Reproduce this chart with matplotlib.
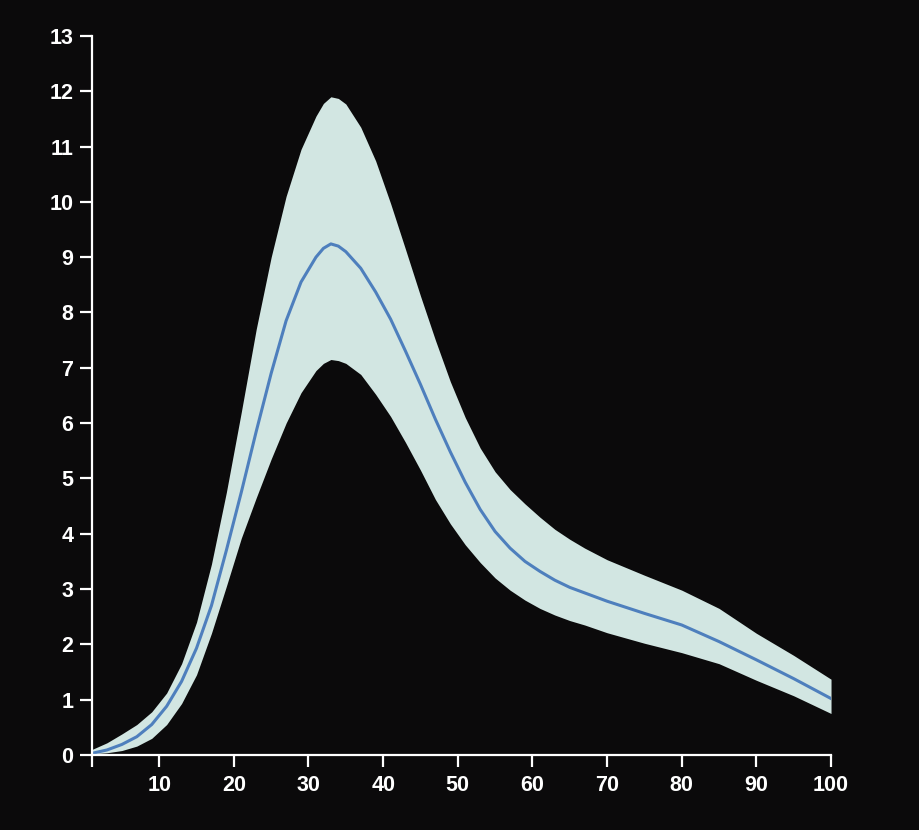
import matplotlib.pyplot as plt
import numpy as np

# valores: média e faixa (inferior / superior)
x = [1, 3, 5, 7, 9, 11, 13, 15, 17, 19, 21, 23, 25, 27, 29, 31, 32, 33, 34, 35, 37, 39,
     41, 43, 45, 47, 49, 51, 53, 55, 57, 59, 61, 63, 65, 67, 70, 75, 80, 85, 90, 95, 100]
media = [0.03, 0.09, 0.19, 0.33, 0.55, 0.88, 1.33, 1.93, 2.7, 3.7, 4.75, 5.85, 6.9, 7.85,
         8.55, 9.0, 9.16, 9.24, 9.2, 9.1, 8.8, 8.37, 7.88, 7.3, 6.7, 6.07, 5.48, 4.93,
         4.44, 4.04, 3.74, 3.5, 3.32, 3.16, 3.03, 2.93, 2.78, 2.56, 2.35, 2.05, 1.72,
         1.38, 1.02]
superior = [0.1, 0.22, 0.38, 0.55, 0.78, 1.12, 1.65, 2.4, 3.45, 4.75, 6.2, 7.7, 9.0, 10.1,
            10.95, 11.55, 11.78, 11.9, 11.87, 11.77, 11.35, 10.74, 9.97, 9.14, 8.3, 7.5,
            6.75, 6.1, 5.55, 5.12, 4.8, 4.54, 4.3, 4.08, 3.9, 3.74, 3.53, 3.25, 2.98,
            2.65, 2.2, 1.8, 1.37]
inferior = [0.02, 0.04, 0.08, 0.16, 0.3, 0.55, 0.93, 1.45, 2.2, 3.05, 3.92, 4.65, 5.35,
            6.0, 6.55, 6.95, 7.08, 7.15, 7.13, 7.08, 6.88, 6.52, 6.12, 5.65, 5.15, 4.62,
            4.18, 3.8, 3.48, 3.2, 2.98, 2.8, 2.65, 2.53, 2.43, 2.35, 2.21, 2.02, 1.85,
            1.65, 1.35, 1.07, 0.75]

xticks = [1, 10, 20, 30, 40, 50, 60, 70, 80, 90, 100]
xlabels = ['', '10', '20', '30', '40', '50', '60', '70', '80', '90', '100']
yticks = list(range(0, 14))

fundo = '#0b0a0b'
plt.rcParams['font.family'] = ['Liberation Sans', 'DejaVu Sans']

fig = plt.figure(figsize=(9.2, 8.3), dpi=100, facecolor=fundo)
ax = fig.add_axes([0.1, 0.0904, 0.8033, 0.8663])
ax.set_facecolor(fundo)

ax.fill_between(x, inferior, superior, color='#d2e6e2', linewidth=0)
ax.plot(x, media, color='#4e7fbd', linewidth=2.2, solid_joinstyle='round')

ax.set_xlim(1, 100)
ax.set_ylim(0, 13)
ax.set_xticks(xticks)
ax.set_xticklabels(xlabels)
ax.set_yticks(yticks)

for lado in ['top', 'right']:
    ax.spines[lado].set_visible(False)
for lado in ['left', 'bottom']:
    ax.spines[lado].set_color('white')
    ax.spines[lado].set_linewidth(1.6)

ax.tick_params(colors='white', length=8.5, width=1.6, labelsize=15.5)
ax.tick_params(axis='x', pad=6)
ax.tick_params(axis='y', pad=5)
for rotulo in ax.get_xticklabels() + ax.get_yticklabels():
    rotulo.set_fontweight('bold')

plt.savefig('out.png', dpi=100, facecolor=fundo)
